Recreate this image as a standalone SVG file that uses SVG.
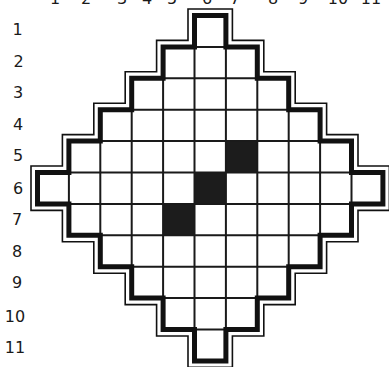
<svg xmlns="http://www.w3.org/2000/svg" width="389" height="367" viewBox="0 0 389 367">
<style>
.lbl{font-family:"DejaVu Sans","Liberation Sans",sans-serif;font-size:16px;fill:#1a1a1a;text-anchor:middle}
.grid{stroke:#1a1a1a;stroke-width:2;fill:none}
.thick{stroke:#111;stroke-width:5;fill:none;stroke-linejoin:miter}
.thin{stroke:#111;stroke-width:1.6;fill:none;stroke-linejoin:miter}
.blk{fill:#1c1c1c}
</style>
<rect width="389" height="367" fill="#fff"/>
<g id="column-labels">
<text class="lbl" x="55" y="4">1</text>
<text class="lbl" x="86" y="4">2</text>
<text class="lbl" x="122" y="4">3</text>
<text class="lbl" x="147" y="4">4</text>
<text class="lbl" x="172" y="4">5</text>
<text class="lbl" x="207" y="4">6</text>
<text class="lbl" x="235" y="4">7</text>
<text class="lbl" x="273" y="4">8</text>
<text class="lbl" x="303" y="4">9</text>
<text class="lbl" x="338" y="4">10</text>
<text class="lbl" x="371" y="4">11</text>
</g>
<g id="row-labels">
<text class="lbl" x="17.5" y="35">1</text>
<text class="lbl" x="18.5" y="67">2</text>
<text class="lbl" x="18" y="98">3</text>
<text class="lbl" x="18" y="130">4</text>
<text class="lbl" x="18" y="161">5</text>
<text class="lbl" x="18" y="194">6</text>
<text class="lbl" x="17" y="225">7</text>
<text class="lbl" x="17" y="257">8</text>
<text class="lbl" x="17" y="288">9</text>
<text class="lbl" x="15" y="322">10</text>
<text class="lbl" x="15" y="353">11</text>
</g>
<g id="black-cells">
<rect class="blk" x="225.9" y="141.1" width="31.4" height="31.4"/>
<rect class="blk" x="194.5" y="172.5" width="31.4" height="31.4"/>
<rect class="blk" x="163.1" y="203.9" width="31.4" height="31.4"/>
</g>
<g id="grid">
<path class="grid" d="M194.5 46.9H225.9M163.1 78.3H257.3M131.7 109.7H288.7M100.3 141.1H320.1M68.9 172.5H351.5M68.9 203.9H351.5M100.3 235.3H320.1M131.7 266.7H288.7M163.1 298.1H257.3M194.5 329.5H225.9"/>
<path class="grid" d="M68.9 172.5V203.9M100.3 141.1V235.3M131.7 109.7V266.7M163.1 78.3V298.1M194.5 46.9V329.5M225.9 46.9V329.5M257.3 78.3V298.1M288.7 109.7V266.7M320.1 141.1V235.3M351.5 172.5V203.9"/>
</g>
<g id="outline">
<path class="thick" d="M194.5 15.5H225.9V46.9H257.3V78.3H288.7V109.7H320.1V141.1H351.5V172.5H382.9V203.9H351.5V235.3H320.1V266.7H288.7V298.1H257.3V329.5H225.9V360.9H194.5V329.5H163.1V298.1H131.7V266.7H100.3V235.3H68.9V203.9H37.5V172.5H68.9V141.1H100.3V109.7H131.7V78.3H163.1V46.9H194.5Z"/>
<path class="thin" d="M188 9H232.4V40.4H263.8V71.8H295.2V103.2H326.6V134.6H358V166H389.4V210.4H358V241.8H326.6V273.2H295.2V304.6H263.8V336H232.4V367.4H188V336H156.6V304.6H125.2V273.2H93.8V241.8H62.4V210.4H31V166H62.4V134.6H93.8V103.2H125.2V71.8H156.6V40.4H188Z"/>
</g>
</svg>
